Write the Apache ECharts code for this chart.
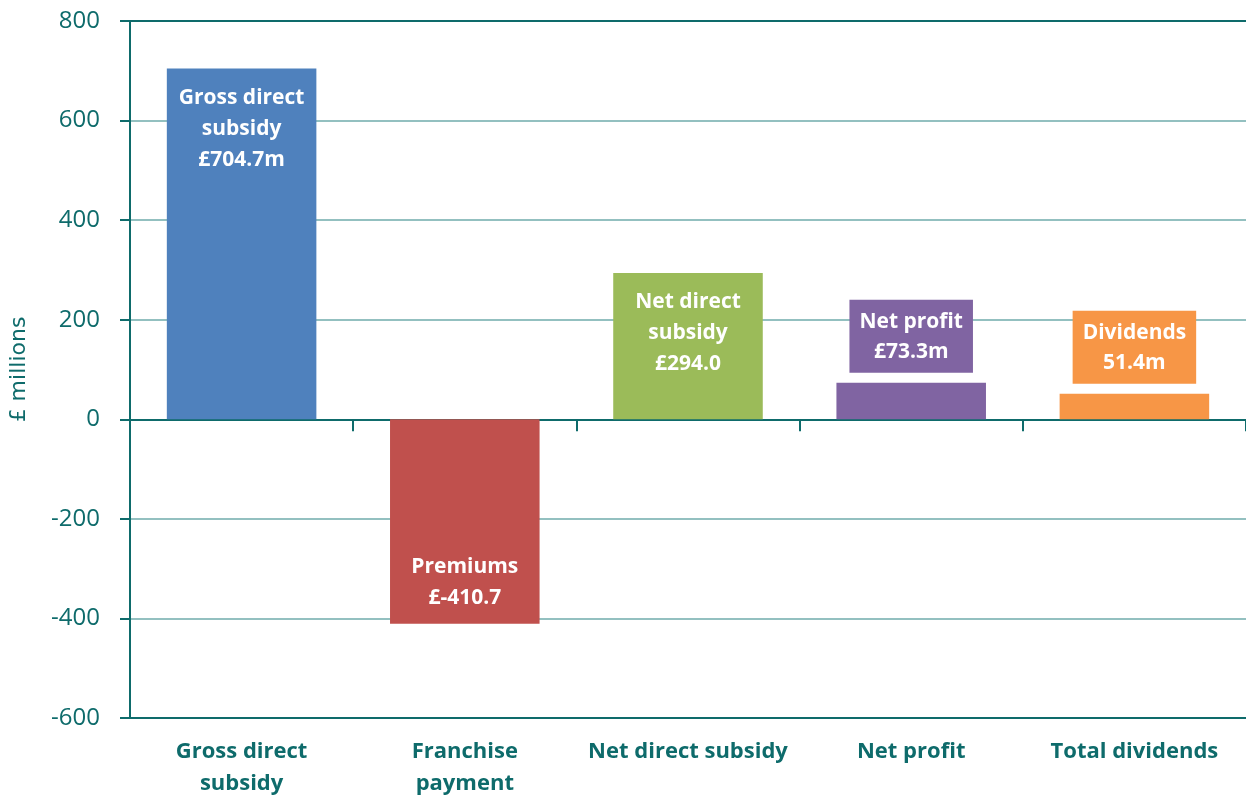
<!DOCTYPE html>
<html>
<head>
<meta charset="utf-8">
<script src="https://cdn.jsdelivr.net/npm/echarts@6/dist/echarts.min.js"></script>
<style>
  html, body { margin: 0; padding: 0; background: #fff; }
  #echart { width: 1246px; height: 805px; }
</style>
</head>
<body>
<div id="echart"></div>
<script>
var categories = ['Gross direct\nsubsidy', 'Franchise\npayment', 'Net direct subsidy', 'Net profit', 'Total dividends'];
var values = [704.7, -410.7, 294.0, 73.3, 51.4];
var barLabels = ['Gross direct\nsubsidy\n£704.7m', 'Premiums\n£-410.7', 'Net direct\nsubsidy\n£294.0', 'Net profit\n£73.3m', 'Dividends\n51.4m'];
var colors = ['#4F81BD', '#C0504D', '#9BBB59', '#8064A2', '#F79646'];

var teal = '#0E6B6B';
var myChart = echarts.init(document.getElementById('echart'));

// label placement per bar: inside top / inside bottom / boxed above
var labelPos = ['insideTop', 'insideBottom', 'insideTop', 'top', 'top'];

var data = values.map(function (v, i) {
    var boxed = labelPos[i] == 'top';
    return {
        value: v,
        itemStyle: { color: colors[i] },
        label: {
            show: true,
            position: labelPos[i],
            distance: boxed ? 10 : (i == 1 ? 10 : 14),
            formatter: barLabels[i],
            color: '#fff',
            fontFamily: 'Open Sans',
            fontWeight: 'bold',
            fontSize: 21,
            lineHeight: boxed ? 30 : 31,
            backgroundColor: boxed ? colors[i] : 'transparent',
            padding: boxed ? [7, 10, 6, 10] : 0
        }
    };
});

option = {
    animation: false,
    grid: { left: 130, right: 0, top: 21, bottom: 87, outerBoundsMode: 'none', containLabel: false },
    xAxis: [
        {
            type: 'category',
            data: categories,
            axisLine: { onZero: false, lineStyle: { color: teal, width: 2 } },
            axisTick: { show: false },
            axisLabel: {
                interval: 0,
                hideOverlap: false,
                color: teal,
                fontFamily: 'Open Sans',
                fontWeight: 'bold',
                fontSize: 22,
                lineHeight: 32,
                margin: 18
            }
        },
        {
            type: 'category',
            data: categories,
            position: 'bottom',
            axisLine: { onZero: true, lineStyle: { color: teal, width: 2 } },
            axisTick: { show: true, inside: false, length: 12, lineStyle: { color: teal, width: 2 } },
            axisLabel: { show: false }
        }
    ],
    yAxis: {
        type: 'value',
        min: -600,
        max: 800,
        interval: 200,
        name: '£ millions',
        nameLocation: 'middle',
        nameGap: 100,
        nameTextStyle: { color: teal, fontFamily: 'DejaVu Sans', fontSize: 22 },
        axisLine: { show: true, lineStyle: { color: teal, width: 2 } },
        axisTick: { show: true, length: 10, lineStyle: { color: teal, width: 2 } },
        axisLabel: { color: teal, fontFamily: 'Open Sans', fontSize: 24, margin: 30 },
        splitLine: {
            lineStyle: {
                color: [teal, '#93C0C0', '#93C0C0', '#93C0C0', '#93C0C0', '#93C0C0', '#93C0C0', teal],
                width: 2
            }
        }
    },
    series: [
        {
            type: 'bar',
            xAxisIndex: 0,
            barWidth: '67%',
            data: data
        }
    ]
};

myChart.setOption(option);
</script>
</body>
</html>
